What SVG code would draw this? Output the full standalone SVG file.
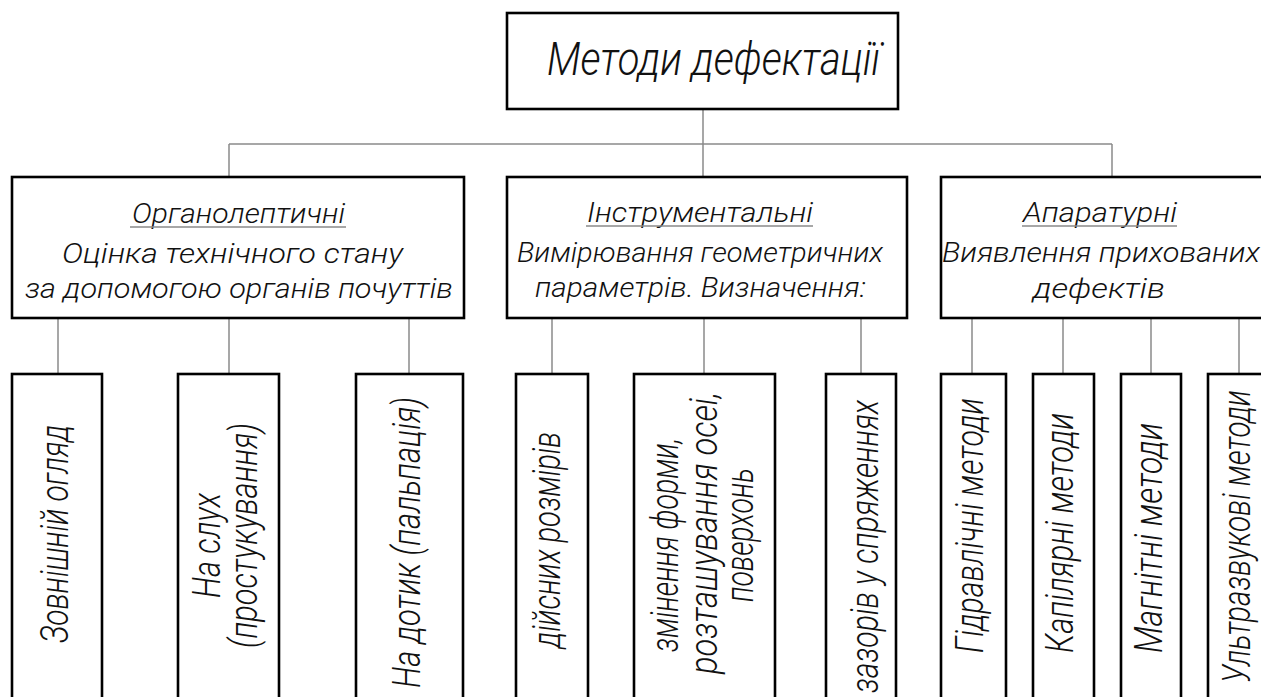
<svg xmlns="http://www.w3.org/2000/svg" width="1261" height="697" viewBox="0 0 1261 697">
<style>
.box{fill:#fff;stroke:#000;stroke-width:2.6}
.con{stroke:#8a8a8a;stroke-width:1.5;fill:none}
.ul{stroke:#8a8a8a;stroke-width:1.5}
text{font-family:Roboto,"Liberation Sans","DejaVu Sans",sans-serif;font-style:italic;font-weight:300;fill:#111}
.t{font-size:46px}
.m{font-size:28px}
.b{font-size:38px}
</style>
<rect width="1261" height="697" fill="#fff"/>
<g id="connectors">
<path class="con" d="M703 109V177M229 144H1112M229 144V177M1112 144V177"/>
<path class="con" d="M58 318V374M229 318V374M409 318V374"/>
<path class="con" d="M552 318V374M704 318V374M861 318V374"/>
<path class="con" d="M972 318V374M1063 318V374M1151 318V374M1239 318V374"/>
</g>
<g id="root">
<rect class="box" x="507" y="13" width="391" height="96"/>
<text class="t" x="547" y="75" textLength="333" lengthAdjust="spacingAndGlyphs">Методи дефектації</text>
</g>
<g id="organoleptic">
<rect class="box" x="12" y="177" width="452" height="141"/>
<text class="m" x="132" y="223" textLength="213" lengthAdjust="spacingAndGlyphs">Органолептичні</text>
<line class="ul" x1="130" y1="227" x2="346" y2="227"/>
<text class="m" x="62" y="263" textLength="341" lengthAdjust="spacingAndGlyphs">Оцінка технічного стану</text>
<text class="m" x="25" y="298" textLength="428" lengthAdjust="spacingAndGlyphs">за допомогою органів почуттів</text>
</g>
<g id="instrumental">
<rect class="box" x="507" y="177" width="400" height="141"/>
<text class="m" x="587" y="222" textLength="226" lengthAdjust="spacingAndGlyphs">Інструментальні</text>
<line class="ul" x1="586" y1="226" x2="813" y2="226"/>
<text class="m" x="517" y="262" textLength="366" lengthAdjust="spacingAndGlyphs">Вимірювання геометричних</text>
<text class="m" x="535" y="297" textLength="331" lengthAdjust="spacingAndGlyphs">параметрів. Визначення:</text>
</g>
<g id="hardware">
<rect class="box" x="941" y="177" width="340" height="141"/>
<text class="m" x="1023" y="222" textLength="154" lengthAdjust="spacingAndGlyphs">Апаратурні</text>
<line class="ul" x1="1022" y1="226" x2="1177" y2="226"/>
<text class="m" x="942" y="262" textLength="318" lengthAdjust="spacingAndGlyphs">Виявлення прихованих</text>
<text class="m" x="1033" y="298" textLength="132" lengthAdjust="spacingAndGlyphs">дефектів</text>
</g>
<g id="visual">
<rect class="box" x="12" y="374" width="90" height="340"/>
<text class="b" transform="translate(68,643) rotate(-90)" textLength="218" lengthAdjust="spacingAndGlyphs">Зовнішній огляд</text>
</g>
<g id="hearing">
<rect class="box" x="178" y="374" width="101" height="340"/>
<text class="b" transform="translate(220,598) rotate(-90)" textLength="105" lengthAdjust="spacingAndGlyphs">На слух</text>
<text class="b" transform="translate(257,648) rotate(-90)" textLength="225" lengthAdjust="spacingAndGlyphs">(простукування)</text>
</g>
<g id="touch">
<rect class="box" x="356" y="374" width="107" height="340"/>
<text class="b" transform="translate(420,688) rotate(-90)" textLength="291" lengthAdjust="spacingAndGlyphs">На дотик (пальпація)</text>
</g>
<g id="sizes">
<rect class="box" x="516" y="374" width="72" height="340"/>
<text class="b" transform="translate(560,648) rotate(-90)" textLength="216" lengthAdjust="spacingAndGlyphs">дійсних розмірів</text>
</g>
<g id="shape">
<rect class="box" x="634" y="374" width="141" height="340"/>
<text class="b" transform="translate(678,652) rotate(-90)" textLength="214" lengthAdjust="spacingAndGlyphs">змінення форми,</text>
<text class="b" transform="translate(717,674) rotate(-90)" textLength="282" lengthAdjust="spacingAndGlyphs">розташування осеі,</text>
<text class="b" transform="translate(753,602) rotate(-90)" textLength="134" lengthAdjust="spacingAndGlyphs">поверхонь</text>
</g>
<g id="gaps">
<rect class="box" x="826" y="374" width="70" height="340"/>
<text class="b" transform="translate(878,693) rotate(-90)" textLength="293" lengthAdjust="spacingAndGlyphs">зазорів у спряженнях</text>
</g>
<g id="hydraulic">
<rect class="box" x="941" y="374" width="65" height="340"/>
<text class="b" transform="translate(983,653) rotate(-90)" textLength="255" lengthAdjust="spacingAndGlyphs">Гідравлічні методи</text>
</g>
<g id="capillary">
<rect class="box" x="1033" y="374" width="61" height="340"/>
<text class="b" transform="translate(1073,653) rotate(-90)" textLength="240" lengthAdjust="spacingAndGlyphs">Капілярні методи</text>
</g>
<g id="magnetic">
<rect class="box" x="1121" y="374" width="60" height="340"/>
<text class="b" transform="translate(1162,653) rotate(-90)" textLength="230" lengthAdjust="spacingAndGlyphs">Магнітні методи</text>
</g>
<g id="ultrasonic">
<rect class="box" x="1208" y="374" width="80" height="340"/>
<text class="b" transform="translate(1250,683) rotate(-90)" textLength="293" lengthAdjust="spacingAndGlyphs">Ультразвукові методи</text>
</g>
</svg>
